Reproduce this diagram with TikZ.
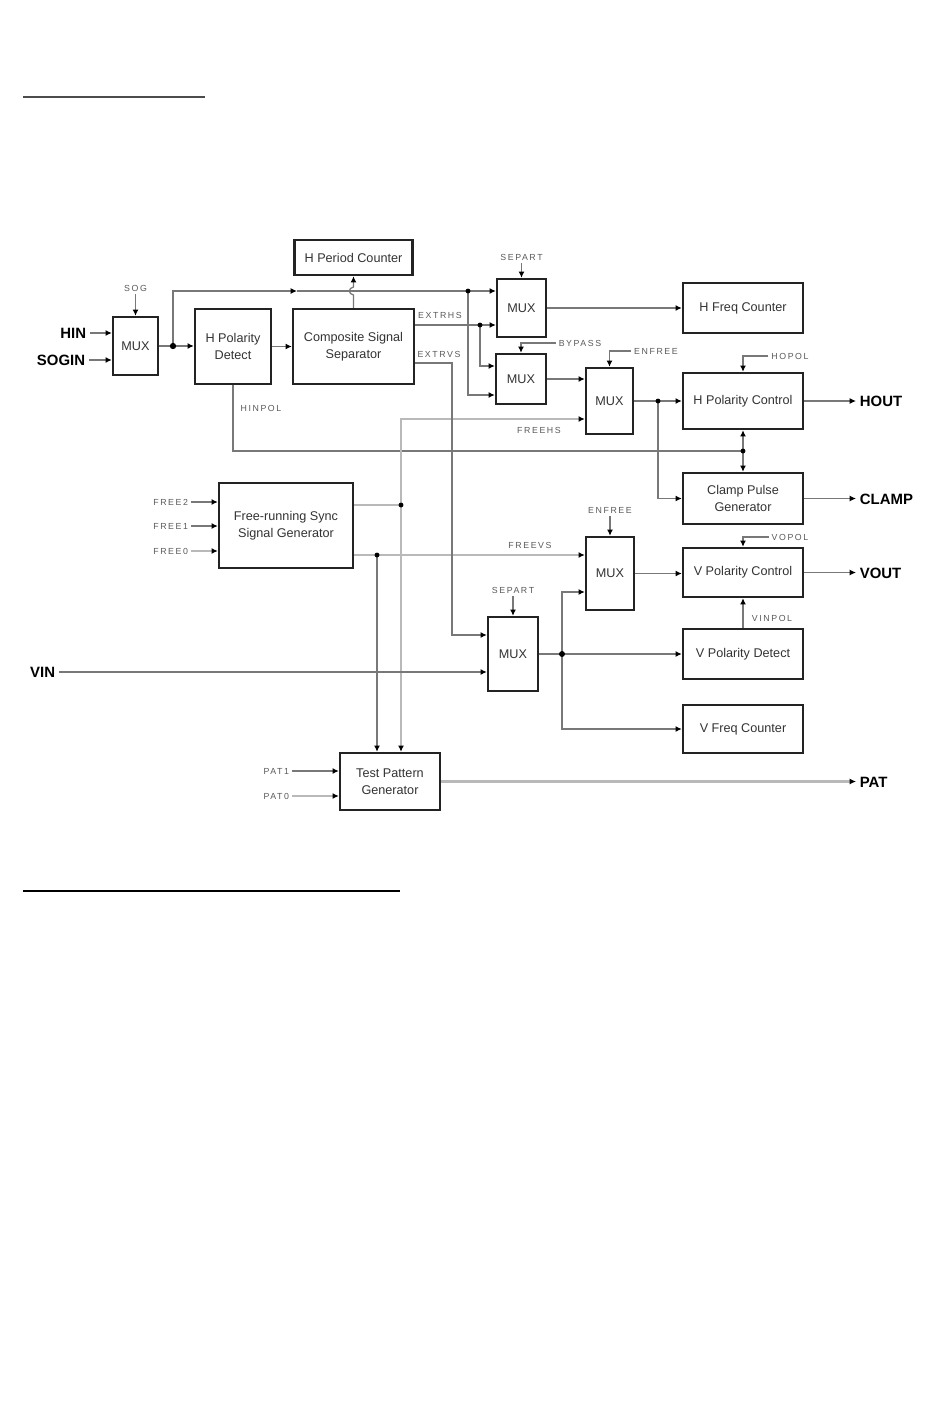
\documentclass[tikz,border=0pt]{standalone}
\usepackage{fontspec}
\setmainfont{Liberation Sans}
\newfontfamily\spacedsans[LetterSpace=18]{Liberation Sans}
\usetikzlibrary{calc, positioning, arrows.meta, backgrounds}
\definecolor{wiregray}{RGB}{120,120,120}
\definecolor{lightwire}{RGB}{185,185,185}
\definecolor{boxline}{RGB}{35,35,35}
\newcommand{\blkfont}{\fontsize{7.2}{9.4}\selectfont}
\newcommand{\lblfont}{\spacedsans\fontsize{5}{6}\selectfont}
\newcommand{\pinfont}{\bfseries\fontsize{8.5}{10}\selectfont}

\begin{document}
\begin{tikzpicture}[x=0.2mm, y=-0.2mm,
  block/.style={draw=boxline, line width=1.3pt, fill=white, align=center, inner sep=1pt, font=\blkfont, text=black!80},
  wire/.style={draw=wiregray, line width=0.7pt},
  fwire/.style={draw=lightwire, line width=1.2pt},
  sig/.style={font=\lblfont, text=black!65, inner sep=1.5pt},
  pin/.style={font=\pinfont, text=black, inner sep=2pt},
  dot/.style={circle, fill=black, inner sep=0pt, minimum size=2.8pt},
  >={Latex[length=3.6pt, width=3.4pt, color=black]}]

\useasboundingbox (0,0) rectangle (950,1420);

% heading rules
\draw[line width=1pt, black!70] (23,97) -- (205,97);
\draw[line width=0.9pt, black] (23,891) -- (400,891);

% blocks
\node[block, minimum width=9mm, minimum height=11.6mm] (mux1) at (135.5,346) {MUX};
\node[block, minimum width=15.2mm, minimum height=15mm] (hpd) at (233,346.5) {H Polarity\\Detect};
\node[block, minimum width=24.2mm, minimum height=15mm] (css) at (353.5,346.5) {Composite Signal\\Separator};
\node[block, minimum width=23.6mm, minimum height=7mm] (hpc) at (353.5,257.5) {H Period Counter};
\node[block, minimum width=9.8mm, minimum height=11.6mm] (muxs) at (521.5,308) {MUX};
\node[block, minimum width=24mm, minimum height=10mm] (hfc) at (743,308) {H Freq Counter};
\node[block, minimum width=10mm, minimum height=10mm] (muxb) at (521,379) {MUX};
\node[block, minimum width=9.4mm, minimum height=13.2mm] (muxe) at (609.5,401) {MUX};
\node[block, minimum width=24mm, minimum height=11.2mm] (hpol) at (743,401) {H Polarity Control};
\node[block, minimum width=24mm, minimum height=10.2mm] (cpg) at (743,498.5) {Clamp Pulse\\Generator};
\node[block, minimum width=26.8mm, minimum height=17mm] (frsg) at (286,525.5) {Free-running Sync\\Signal Generator};
\node[block, minimum width=9.6mm, minimum height=14.6mm] (muxve) at (610,573.5) {MUX};
\node[block, minimum width=24mm, minimum height=9.8mm] (vpc) at (743,572.5) {V Polarity Control};
\node[block, minimum width=24mm, minimum height=10mm] (vpd) at (743,654) {V Polarity Detect};
\node[block, minimum width=10mm, minimum height=14.8mm] (muxvs) at (513,654) {MUX};
\node[block, minimum width=24mm, minimum height=9.6mm] (vfc) at (743,729) {V Freq Counter};
\node[block, minimum width=20mm, minimum height=11.4mm] (tpg) at (390,781.5) {Test Pattern\\Generator};

% pins and signal labels
\node[pin, anchor=east] (hin) at (90,333) {HIN};
\node[pin, anchor=east] (sogin) at (89,360) {SOGIN};
\node[pin, anchor=east] (vin) at (59,672) {VIN};
\node[pin, anchor=west] (hout) at (856,401) {HOUT};
\node[pin, anchor=west] (clamp) at (856,499) {CLAMP};
\node[pin, anchor=west] (vout) at (856,573) {VOUT};
\node[pin, anchor=west] (pat) at (856,782) {PAT};
\node[sig] (sog) at (135.5,288) {SOG};
\node[sig] (sep1) at (521.5,257) {SEPART};
\node[sig] (extrhs) at (440,315) {EXTRHS};
\node[sig] (extrvs) at (439,354) {EXTRVS};
\node[sig] (byp) at (580,343) {BYPASS};
\node[sig] (enf1) at (656,351) {ENFREE};
\node[sig] (hopol) at (790,356) {HOPOL};
\node[sig] (freehs) at (539,430) {FREEHS};
\node[sig] (hinpol) at (261,408) {HINPOL};
\node[sig, anchor=east] (free2) at (191,502) {FREE2};
\node[sig, anchor=east] (free1) at (191,526) {FREE1};
\node[sig, anchor=east] (free0) at (191,551) {FREE0};
\node[sig] (freevs) at (530,545) {FREEVS};
\node[sig] (enf2) at (610,510) {ENFREE};
\node[sig] (vopol) at (790,537) {VOPOL};
\node[sig] (vinpol) at (772,618) {VINPOL};
\node[sig] (sep2) at (513,590) {SEPART};
\node[sig, anchor=east] (pat1) at (292,771) {PAT1};
\node[sig, anchor=east] (pat0) at (292,796) {PAT0};

% junctions
\node[dot, minimum size=3.6pt] (d1) at (173,346) {};
\node[dot] (d2) at (468,291) {};
\node[dot] (d3) at (480,325) {};
\node[dot] (d4) at (658,401) {};
\node[dot] (d5) at (743,451) {};
\node[dot] (d6) at (401,505) {};
\node[dot] (d7) at (377,555) {};
\node[dot, minimum size=3.4pt] (d8) at (562,654) {};
\coordinate (mid1) at (297,291);
\coordinate (evs) at (452,363);

\begin{scope}[on background layer]
% horizontal sync path
\draw[wire,->] (hin) -- (hin -| mux1.west);
\draw[wire,->] (sogin) -- (sogin -| mux1.west);
\draw[wire,->] (sog) -- (sog |- mux1.north);
\draw[wire,->] (mux1.east) -- (mux1.east -| hpd.west);
\draw[wire,->] (d1.center) |- (mid1);
\draw[wire] (mid1) -- (d2.center);
\draw[wire,->] (d2.center) -- (d2 -| muxs.west);
\draw[wire,->] (hpd.east) -- (css.west);
\draw[wire,->] (css.north) -- (353.5,295) .. controls (348,294) and (348,288) .. (353.5,287) -- (hpc.south);
\draw[wire] (css.east |- d3) -- (d3.center);
\draw[wire,->] (d3.center) -- (d3 -| muxs.west);
\draw[wire,->] (d3.center) |- ($(muxb.west)+(0,-13)$);
\draw[wire,->] (d2.center) |- ($(muxb.west)+(0,16)$);
\draw[wire,->] (sep1) -- (sep1 |- muxs.north);
\draw[wire,->] (muxs.east) -- (hfc.west);
\draw[wire,->] (byp.west) -| (muxb.north);
\draw[wire,->] (muxb.east) -- (muxb.east -| muxe.west);
\draw[wire,->] (enf1.west) -| (muxe.north);
\draw[wire,->] (muxe.east) -- (hpol.west);
\draw[wire,->] (d4.center) |- (cpg.west);
\draw[wire,->] (hopol.west) -| (hpol.north);
\draw[wire,->] (hpol.east) -- (hout.west);
\draw[wire] (hpd.south) |- (d5.center);
\draw[wire,->] (d5.center) -- (hpol.south);
\draw[wire,->] (d5.center) -- (cpg.north);
\draw[wire,->] (cpg.east) -- (cpg.east -| clamp.west);

% free-running generator
\draw[wire,->] (free2) -- (free2 -| frsg.west);
\draw[wire,->] (free1) -- (free1 -| frsg.west);
\draw[fwire,->] (free0) -- (free0 -| frsg.west);
\draw[fwire] (frsg.east |- d6) -- (d6.center);
\draw[fwire,->] (d6.center) |- ($(muxe.west)+(0,18)$);
\draw[fwire,->] (d6.center) -- (d6 |- tpg.north);
\draw[fwire] (frsg.east |- d7) -- (d7.center);
\draw[fwire,->] (d7.center) -- (d7 -| muxve.west);
\draw[wire,->] (d7.center) -- (d7 |- tpg.north);

% vertical sync path
\draw[wire,->] (css.east |- evs) -- (evs) |- ($(muxvs.west)+(0,-19)$);
\draw[wire,->] (vin) -- ($(muxvs.west)+(0,18)$);
\draw[wire,->] (sep2) -- (sep2 |- muxvs.north);
\draw[wire,->] (muxvs.east) -- (vpd.west);
\draw[wire,->] (d8.center) |- ($(muxve.west)+(0,18.5)$);
\draw[wire,->] (d8.center) |- (vfc.west);
\draw[wire,->] (enf2) -- (enf2 |- muxve.north);
\draw[wire,->] (muxve.east) -- (muxve.east -| vpc.west);
\draw[wire,->] (vopol.west) -| (vpc.north);
\draw[wire,->] (vpd.north) -- (vpc.south);
\draw[wire,->] (vpc.east) -- (vpc.east -| vout.west);

% test pattern
\draw[wire,->] (pat1) -- (pat1 -| tpg.west);
\draw[fwire,->] (pat0) -- (pat0 -| tpg.west);
\draw[fwire,->] (tpg.east) -- (tpg.east -| pat.west);
\end{scope}
\end{tikzpicture}
\end{document}
